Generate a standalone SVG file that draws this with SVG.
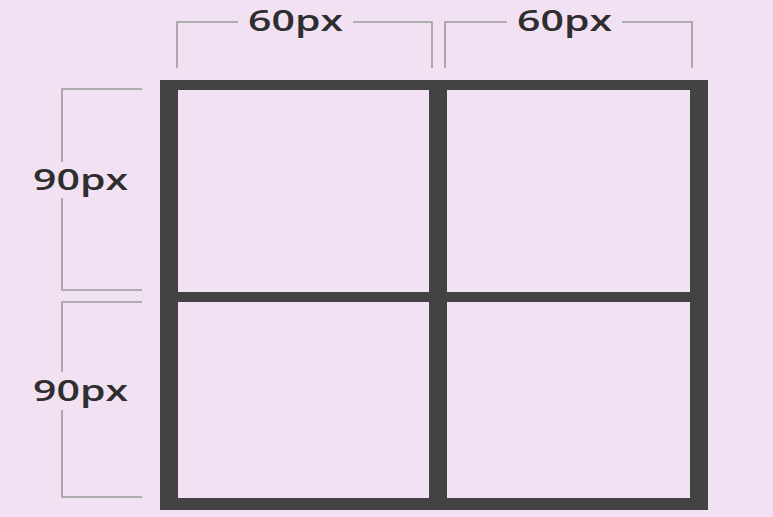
<svg xmlns="http://www.w3.org/2000/svg" width="773" height="517" viewBox="0 0 773 517">
<style>
.dim{fill:none;stroke:#9a9a9a;stroke-width:1.6}
.bar{fill:#434343}
.lbl{font-family:"Open Sans","DejaVu Sans",sans-serif;font-weight:600;font-size:28px;fill:#2e2e2e}
</style>
<rect width="773" height="517" fill="#f2e1f3"/>
<g id="grid">
<rect class="bar" x="160" y="80" width="548" height="10"/>
<rect class="bar" x="160" y="292" width="548" height="10"/>
<rect class="bar" x="160" y="498" width="548" height="12"/>
<rect class="bar" x="160" y="80" width="18" height="430"/>
<rect class="bar" x="429" y="80" width="18" height="430"/>
<rect class="bar" x="690" y="80" width="18" height="430"/>
</g>
<g id="connectors">
<path class="dim" d="M177,68 V22 H238 M353,22 H432 V68"/>
<path class="dim" d="M445,68 V22 H507 M622,22 H692 V68"/>
<path class="dim" d="M142,89 H62 V162 M62,198 V290 H142"/>
<path class="dim" d="M142,302 H62 V372 M62,410 V497 H142"/>
</g>
<g id="label-top-1"><text class="lbl" x="248" y="31" textLength="95" lengthAdjust="spacingAndGlyphs">60px</text></g>
<g id="label-top-2"><text class="lbl" x="517" y="31" textLength="95" lengthAdjust="spacingAndGlyphs">60px</text></g>
<g id="label-left-1"><text class="lbl" x="33" y="190" textLength="95" lengthAdjust="spacingAndGlyphs">90px</text></g>
<g id="label-left-2"><text class="lbl" x="33" y="401" textLength="95" lengthAdjust="spacingAndGlyphs">90px</text></g>
</svg>
